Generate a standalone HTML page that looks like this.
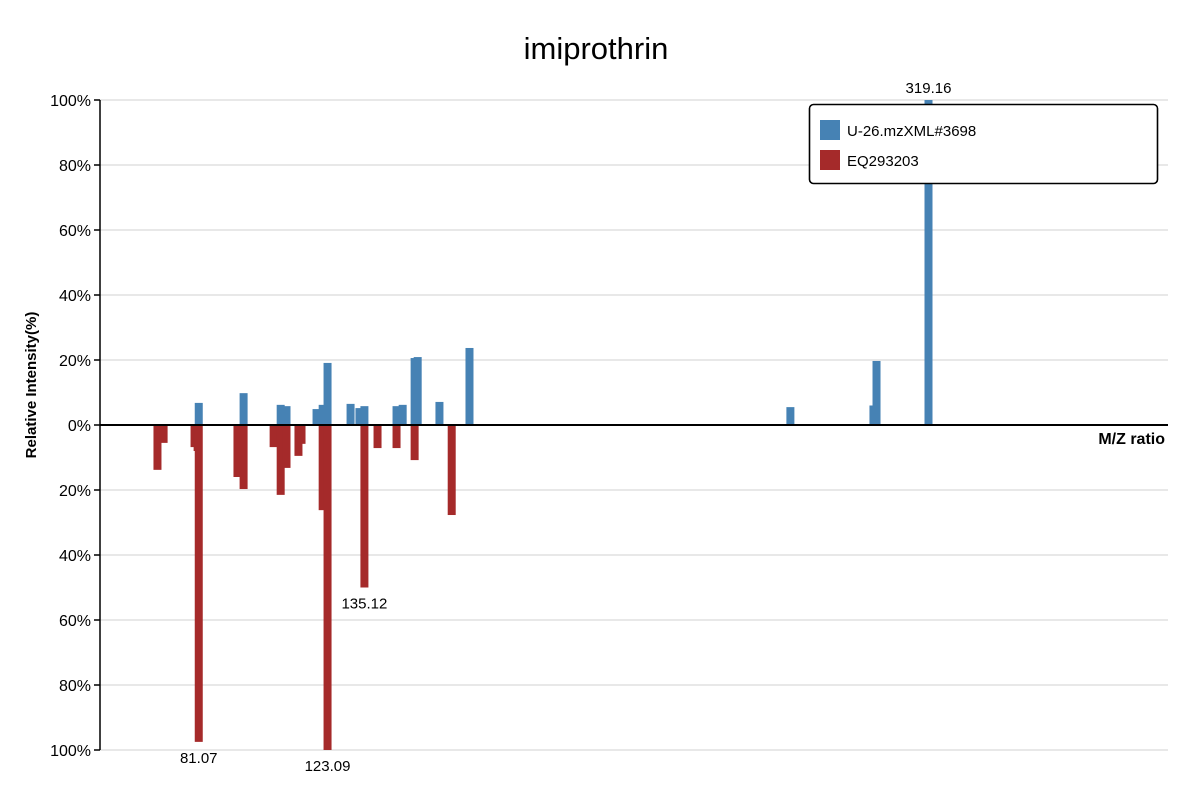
<!DOCTYPE html>
<html><head><meta charset="utf-8"><style>
body{margin:0;background:#fff;}
svg{font-family:"Liberation Sans",sans-serif;}
</style></head><body>
<svg id="chart" width="1200" height="800">
<text x="596" y="59" text-anchor="middle" font-size="31">imiprothrin</text>
<g id="grid"></g>
<g id="bars"></g>
<g id="axes"></g>
<g>
<rect x="809.5" y="104.5" width="348" height="79" rx="4" fill="#fff" stroke="#000" stroke-width="1.6"/>
<rect x="820" y="120" width="20" height="20" fill="#4682b4"/>
<text x="847" y="136" font-size="15">U-26.mzXML#3698</text>
<rect x="820" y="150" width="20" height="20" fill="#a52a2a"/>
<text x="847" y="166" font-size="15">EQ293203</text>
</g>
</svg>
<script>
const topMz=[81.07,95.7,107.8,109.7,119.5,121.5,123.09,130.6,133.5,135.12,145.6,147.6,151.5,152.5,159.6,169.4,274.1,301.2,302.2,319.16];
const topInt=[6.8,9.8,6.2,5.8,4.9,6.2,19.1,6.5,5.2,5.8,5.8,6.2,20.6,20.9,7.1,23.7,5.5,6.0,19.7,100];
const botMz=[67.6,69.6,79.7,80.7,81.07,93.7,95.7,105.5,107.8,109.7,113.6,114.6,121.5,123.09,135.12,139.4,145.6,151.5,163.6];
const botInt=[13.8,5.5,6.8,8.0,97.5,16.0,19.7,6.8,21.5,13.2,9.5,5.8,26.2,100,50,7.1,7.1,10.8,27.7];
const topLabels=["319.16"];
const botLabels=["81.07","123.09","135.12"];
const yTicks=[100,80,60,40,20,0,-20,-40,-60,-80,-100];
const X0=100,X1=1168,Y0=425,PX=3.25;
const mzMin=48.85,mzMax=397.3;
const xs=m=>X0+(m-mzMin)/(mzMax-mzMin)*(X1-X0);
const ys=v=>Y0-v*PX;
const NS="http://www.w3.org/2000/svg";
function mk(tag,attrs,parent){const e=document.createElementNS(NS,tag);for(const k in attrs)e.setAttribute(k,attrs[k]);parent.appendChild(e);return e;}
const grid=document.getElementById('grid'),bars=document.getElementById('bars'),axes=document.getElementById('axes');
yTicks.forEach(t=>{
 if(t!==0){const g=mk('line',{x1:X0,x2:X1,y1:ys(t),y2:ys(t),stroke:'#e0e0e0','stroke-width':1.5},grid);
 
 }
 const tk=mk('line',{x1:X0-6,x2:X0,y1:ys(t),y2:ys(t),stroke:'#000','stroke-width':1.5},axes);
 
 
 const lb=mk('text',{x:X0-9,y:ys(t)+6,'text-anchor':'end','font-size':16},axes);
 lb.textContent=Math.abs(t)+'%';
 
 
});
topMz.forEach((m,i)=>{
 const r=mk('rect',{x:xs(m)-4,y:ys(topInt[i]),width:8,height:topInt[i]*PX,fill:'#4682b4'},bars);
 
 
 if(topLabels.includes(m.toFixed(2))){const l=mk('text',{x:xs(m),y:ys(topInt[i])-7,'text-anchor':'middle','font-size':15},bars);l.textContent=m.toFixed(2);
 
 }
});
botMz.forEach((m,i)=>{
 const r=mk('rect',{x:xs(m)-4,y:Y0,width:8,height:botInt[i]*PX,fill:'#a52a2a'},bars);
 
 
 if(botLabels.includes(m.toFixed(2))){const l=mk('text',{x:xs(m),y:ys(-botInt[i])+21,'text-anchor':'middle','font-size':15},bars);l.textContent=m.toFixed(2);
 
 }
});
const ya=mk('line',{x1:X0,x2:X0,y1:ys(100),y2:ys(-100),stroke:'#000','stroke-width':1.5},axes);


const za=mk('line',{x1:X0,x2:X1,y1:Y0,y2:Y0,stroke:'#000','stroke-width':2},axes);


const xt=mk('text',{x:1165,y:444,'text-anchor':'end','font-size':16,'font-weight':'bold'},axes);
xt.textContent='M/Z ratio';


const yt=mk('text',{x:0,y:0,transform:'translate(36,385) rotate(-90)','text-anchor':'middle','font-size':15,'font-weight':'bold'},axes);
yt.textContent='Relative Intensity(%)';


</script>
</body></html>
